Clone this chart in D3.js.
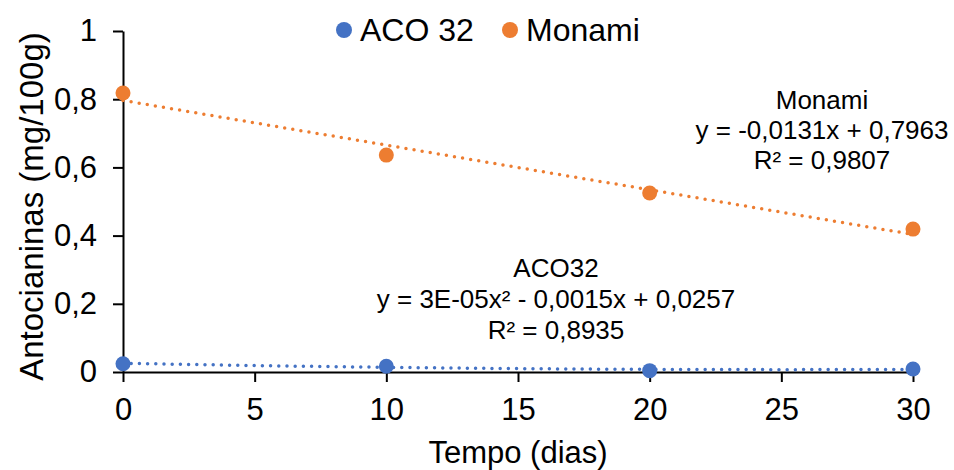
<!DOCTYPE html>
<html>
<head>
<meta charset="utf-8">
<script src="https://cdn.jsdelivr.net/npm/d3@7"></script>
<style>
  html, body { margin: 0; padding: 0; background: #fff; }
  svg { display: block; font-family: "Liberation Sans", Arial, sans-serif; }
</style>
</head>
<body>
<svg id="chart" width="954" height="470"></svg>
<script>
// Sampling days and anthocyanin content per cultivar
const days = [0, 10, 20, 30];
const aco32 = [0.024, 0.017, 0.004, 0.009];
const monami = [0.818, 0.636, 0.525, 0.419];

// Trendline coefficients as printed: [c0, c1, c2]
const aco32Fit = [0.0257, -0.0015, 0.00003];
const monamiFit = [0.7963, -0.0131, 0];

const xTicks = [0, 5, 10, 15, 20, 25, 30];
const yTicks = [0, 0.2, 0.4, 0.6, 0.8, 1];
const yTickLabels = ["0", "0,2", "0,4", "0,6", "0,8", "1"];

const seriesNames = ["ACO 32", "Monami"];
const seriesColors = ["#4472C4", "#ED7D31"];

const aco32Label = ["ACO32", "y = 3E-05x² - 0,0015x + 0,0257", "R² = 0,8935"];
const monamiLabel = ["Monami", "y = -0,0131x + 0,7963", "R² = 0,9807"];

const svg = d3.select("#chart");
const margin = { left: 123, right: 41, top: 31, bottom: 98 };
const W = 954, H = 470;

const x = d3.scaleLinear().domain([0, 30]).range([margin.left, W - margin.right]);
const y = d3.scaleLinear().domain([0, 1]).range([H - margin.bottom, margin.top]);

// Axes
const yAxis = d3.axisLeft(y).tickValues(yTicks)
  .tickFormat((d, i) => yTickLabels[i]).tickSizeInner(10).tickSizeOuter(0).tickPadding(16);
const xAxis = d3.axisBottom(x).tickValues(xTicks)
  .tickFormat(d => String(d)).tickSizeInner(10).tickSizeOuter(0).tickPadding(16);

const gy = svg.append("g").attr("transform", `translate(${margin.left},0)`).call(yAxis);
const gx = svg.append("g").attr("transform", `translate(0,${y(0)})`).call(xAxis);

[gx, gy].forEach(g => {
  g.select(".domain").attr("stroke", "#000").attr("stroke-width", 2);
  g.selectAll(".tick line").attr("stroke", "#000").attr("stroke-width", 2);
  g.selectAll(".tick text").attr("fill", "#000").attr("font-size", 31)
    .attr("font-family", "Liberation Sans, Arial, sans-serif");
});

// Axis titles
svg.append("text")
  .attr("x", (x(0) + x(30)) / 2).attr("y", 463)
  .attr("text-anchor", "middle").attr("font-size", 31).attr("fill", "#000")
  .text("Tempo (dias)");

svg.append("text")
  .attr("transform", `translate(43,${(y(0) + y(1)) / 2 + 5}) rotate(-90)`)
  .attr("text-anchor", "middle").attr("font-size", 33).attr("fill", "#000")
  .text("Antocianinas (mg/100g)");

// Dotted trendlines drawn from the printed coefficients
function trend(coef) {
  const xs = d3.range(0, 30.01, 0.25);
  return xs.map(t => [t, coef[0] + coef[1] * t + coef[2] * t * t]);
}
const line = d3.line().x(d => x(d[0])).y(d => y(d[1]));

[aco32Fit, monamiFit].forEach((coef, i) => {
  svg.append("path")
    .attr("d", line(trend(coef)))
    .attr("fill", "none")
    .attr("stroke", seriesColors[i])
    .attr("stroke-width", 3.5)
    .attr("stroke-linecap", "round")
    .attr("stroke-dasharray", "0 8.2");
});

// Data points
[aco32, monami].forEach((vals, i) => {
  svg.append("g").selectAll("circle")
    .data(vals)
    .join("circle")
    .attr("cx", (d, j) => x(days[j]))
    .attr("cy", d => y(d))
    .attr("r", 7.5)
    .attr("fill", seriesColors[i]);
});

// Trendline labels
function block(lines, cx, y0, step) {
  const t = svg.append("text").attr("text-anchor", "middle")
    .attr("font-size", 26).attr("fill", "#000");
  lines.forEach((s, k) => {
    t.append("tspan").attr("x", cx).attr("y", y0 + k * step).text(s);
  });
}
block(monamiLabel, 822, 109, 30);
block(aco32Label, 556, 277, 31);

// Legend
const legendX = [344, 510];
seriesNames.forEach((name, i) => {
  svg.append("circle").attr("cx", legendX[i]).attr("cy", 30).attr("r", 8)
    .attr("fill", seriesColors[i]);
  svg.append("text").attr("x", legendX[i] + 16).attr("y", 41)
    .attr("font-size", 32).attr("fill", "#000").text(name);
});
</script>
</body>
</html>
